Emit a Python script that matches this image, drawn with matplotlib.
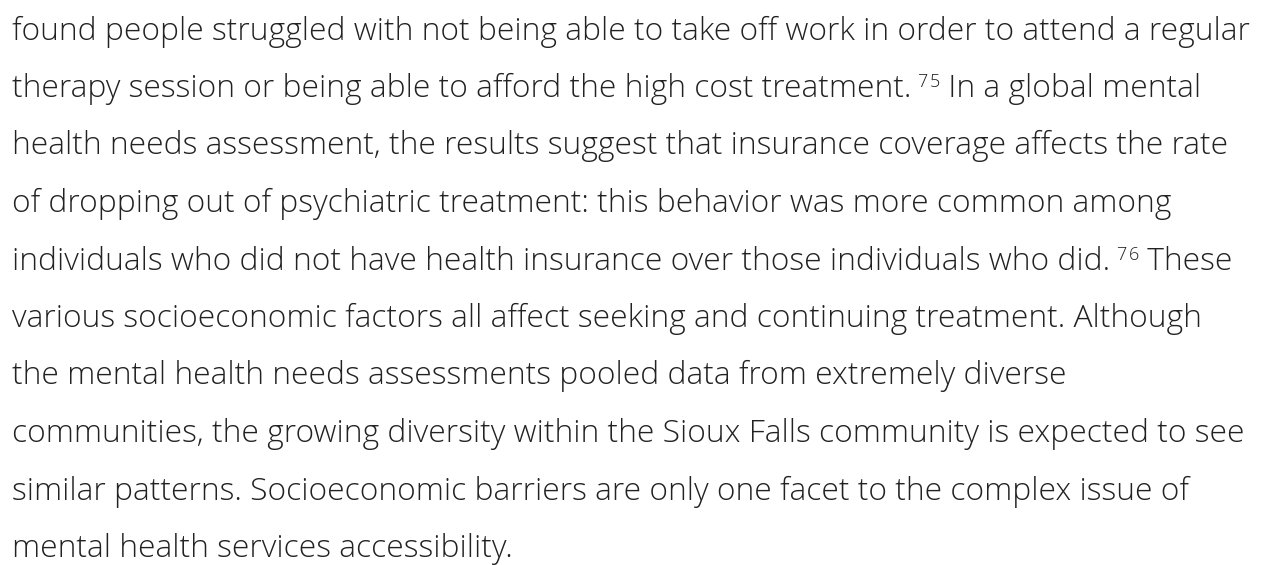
import matplotlib.pyplot as plt

# paragraph lines; each segment is (text, is_superscript)
lines = [
    [("found people struggled with not being able to take off work in order to attend a regular", False)],
    [("therapy session or being able to afford the high cost treatment.", False), ("75", True), (" In a global mental", False)],
    [("health needs assessment, the results suggest that insurance coverage affects the rate", False)],
    [("of dropping out of psychiatric treatment: this behavior was more common among", False)],
    [("individuals who did not have health insurance over those individuals who did.", False), ("76", True), (" These", False)],
    [("various socioeconomic factors all affect seeking and continuing treatment. Although", False)],
    [("the mental health needs assessments pooled data from extremely diverse", False)],
    [("communities, the growing diversity within the Sioux Falls community is expected to see", False)],
    [("similar patterns. Socioeconomic barriers are only one facet to the complex issue of", False)],
    [("mental health services accessibility.", False)],
]

W, H = 1262, 565
fig = plt.figure(figsize=(W / 100, H / 100), dpi=100)
fig.patch.set_facecolor("white")

family = ["Open Sans", "DejaVu Sans"]
size = 22.88
sup_size = 13.0
sup_raise = 10  # px above baseline
color = "#222222"

renderer = fig.canvas.get_renderer()
x0 = 12
y_first = 39.5
step = 57.5


def put(x, y, s, fs):
    t = fig.text(x / W, 1 - y / H, s, fontsize=fs, family=family,
                 weight="light", color=color, va="baseline", ha="left")
    return t.get_window_extent(renderer=renderer).width


for i, segs in enumerate(lines):
    x = x0
    y = y_first + i * step
    for text, sup in segs:
        if sup:
            # superscript digits, spaced a little apart like the browser
            x += 6
            for ch in text:
                x += put(x, y - sup_raise, ch, sup_size) + 2
            x -= 2
        else:
            x += put(x, y, text, size)

fig.savefig("out.png", dpi=100, facecolor="white")
